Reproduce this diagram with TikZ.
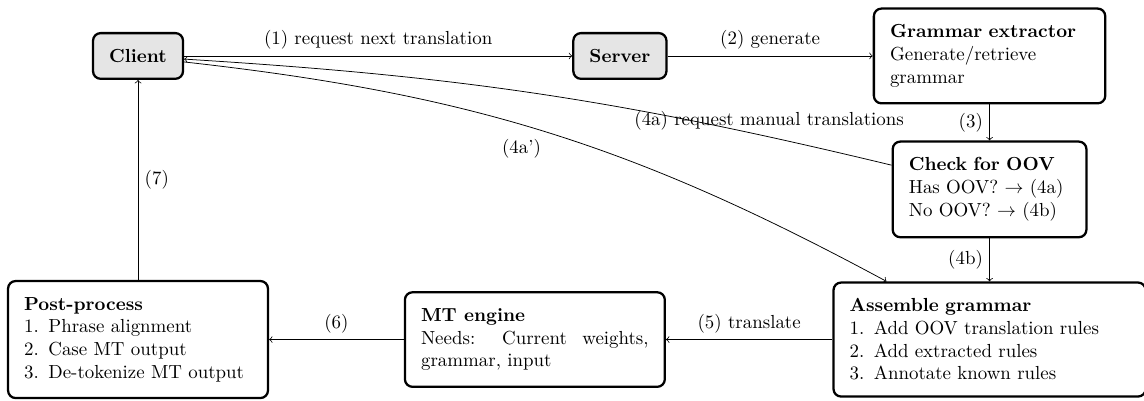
\documentclass[tikz,border=0pt]{standalone}
\usetikzlibrary{arrows}
\begin{document}
\begin{tikzpicture}[
  endpoint/.style={draw, very thick, rounded corners, fill=black!10, inner sep=0.3cm, font=\bfseries},
  stage/.style={draw, very thick, rounded corners, inner sep=0.3cm, align=left},
]
\useasboundingbox (0,0) rectangle (21.26,-7.45);

% the two ends
\node[endpoint] (client) at (2.565,-1.04) {Client};
\node[endpoint] (server) at (11.52,-1.04) {Server};

% grammar side
\node[stage, text width=3.7cm] (extractor) at (18.39,-1.04) {\textbf{Grammar extractor}\\ Generate/retrieve grammar};
\node[stage, text width=3cm] (oov) at (18.39,-3.52) {\textbf{Check for OOV}\\ Has OOV? $\rightarrow$ (4a)\\ No OOV? $\rightarrow$ (4b)};
\node[stage, text width=5.2cm] (assemble) at (18.39,-6.31) {\textbf{Assemble grammar}\\ 1. Add OOV translation rules\\ 2. Add extracted rules\\ 3. Annotate known rules};

% decoding
\node[stage, text width=4.23cm, align=justify] (mt) at (9.94,-6.31) {\textbf{MT engine}\\ Needs: Current weights, grammar, input};
\node[stage, text width=4.23cm] (post) at (2.565,-6.31) {\textbf{Post-process}\\ 1. Phrase alignment\\ 2. Case MT output\\ 3. De-tokenize MT output};

\draw[->] (client) -- node[above] {(1) request next translation} (server);
\draw[->] (server) -- node[above] {(2) generate} (extractor);
\draw[->] (extractor) -- node[left] {(3)} (oov);
\draw[->] (oov) to[bend right=5] node[pos=0.16, above] {(4a) request manual translations} (client);
\draw[->] (client) to[bend left=11] node[pos=0.5, below left] {(4a')} (assemble);
\draw[->] (oov) -- node[left] {(4b)} (assemble);
\draw[->] (assemble) -- node[above] {(5) translate} (mt);
\draw[->] (mt) -- node[above] {(6)} (post);
\draw[->] (post) -- node[right] {(7)} (client);
\end{tikzpicture}
\end{document}
